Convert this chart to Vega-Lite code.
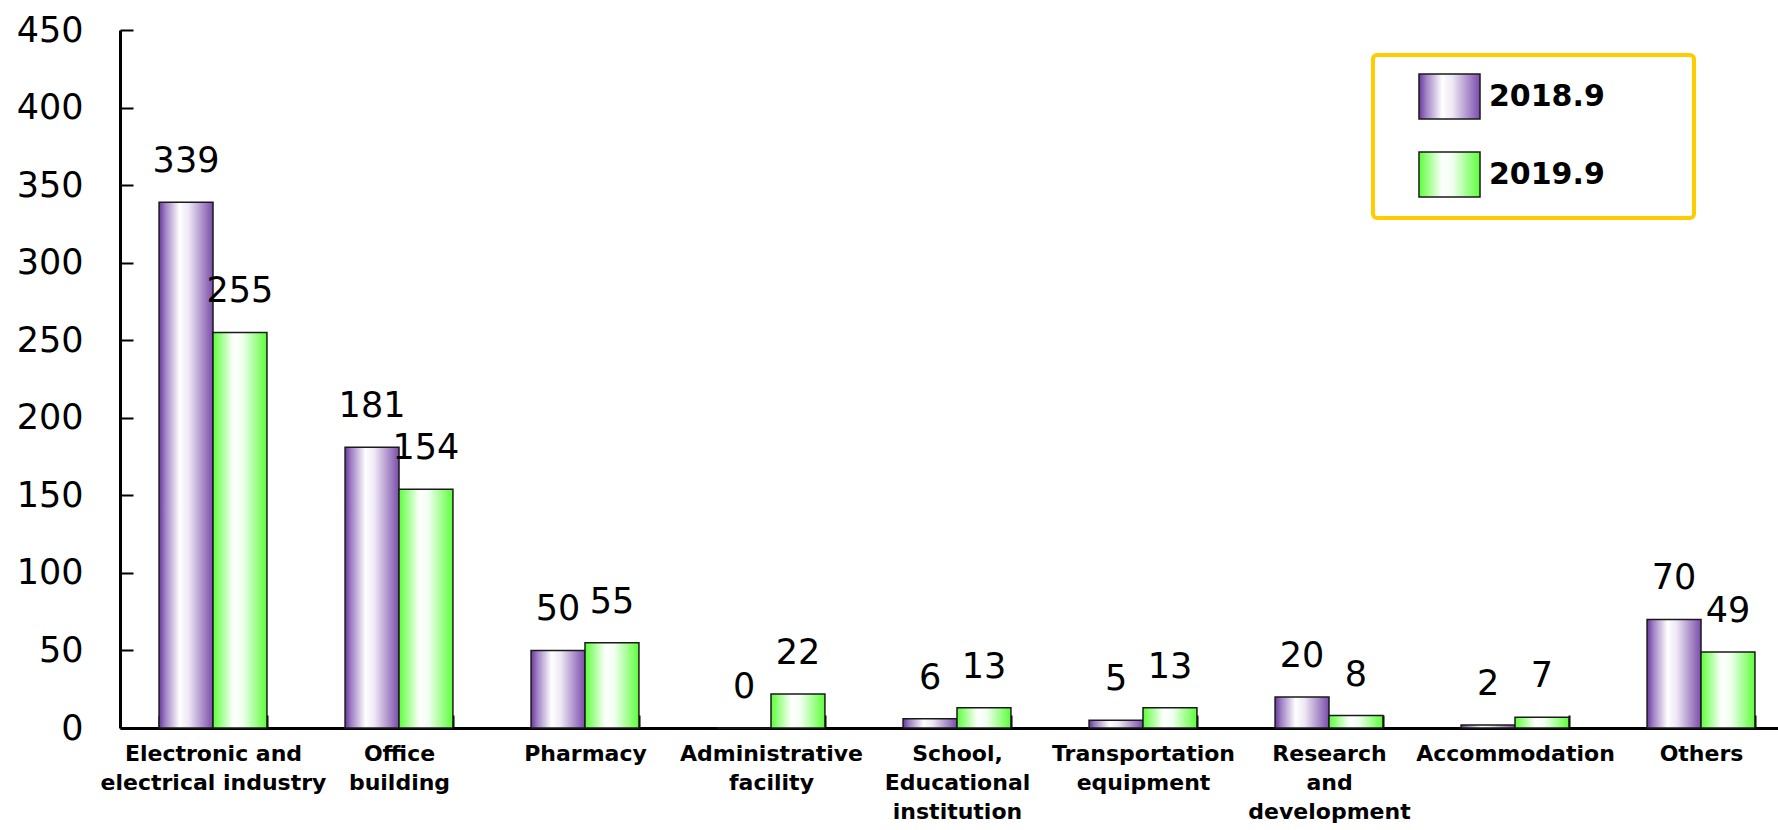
{
  "$schema": "https://vega.github.io/schema/vega-lite/v6.json",
  "autosize": {"type": "none"},
  "width": 1658,
  "height": 698,
  "padding": {"left": 120, "top": 30, "right": 0, "bottom": 102},
  "background": "white",
  "config": {"view": {"stroke": null}, "font": "DejaVu Sans", "legend": {"strokeWidth": 4}},
  "data": {
    "values": [
      {"category": "Electronic and|electrical industry", "year": "2018.9", "value": 339},
      {"category": "Electronic and|electrical industry", "year": "2019.9", "value": 255},
      {"category": "Office|building", "year": "2018.9", "value": 181},
      {"category": "Office|building", "year": "2019.9", "value": 154},
      {"category": "Pharmacy", "year": "2018.9", "value": 50},
      {"category": "Pharmacy", "year": "2019.9", "value": 55},
      {"category": "Administrative|facility", "year": "2018.9", "value": 0},
      {"category": "Administrative|facility", "year": "2019.9", "value": 22},
      {"category": "School,|Educational|institution", "year": "2018.9", "value": 6},
      {"category": "School,|Educational|institution", "year": "2019.9", "value": 13},
      {"category": "Transportation|equipment", "year": "2018.9", "value": 5},
      {"category": "Transportation|equipment", "year": "2019.9", "value": 13},
      {"category": "Research|and|development", "year": "2018.9", "value": 20},
      {"category": "Research|and|development", "year": "2019.9", "value": 8},
      {"category": "Accommodation", "year": "2018.9", "value": 2},
      {"category": "Accommodation", "year": "2019.9", "value": 7},
      {"category": "Others", "year": "2018.9", "value": 70},
      {"category": "Others", "year": "2019.9", "value": 49}
    ]
  },
  "encoding": {
    "x": {
      "field": "category",
      "type": "nominal",
      "sort": null,
      "scale": {"paddingInner": 0.42, "paddingOuter": 0.21, "range": [0, 1674]},
      "axis": {
        "title": null,
        "labelExpr": "datum.value ? split(datum.value, '|') : ''",
        "labelAngle": 0,
        "labelFontSize": 22,
        "labelFontWeight": "bold",
        "labelColor": "black",
        "labelLineHeight": 29,
        "labelBaseline": "top",
        "labelPadding": 28,
        "labelLimit": 400,
        "tickBand": "extent",
        "tickSize": -13,
        "tickWidth": 2,
        "tickColor": "black",
        "domainColor": "black",
        "domainWidth": 3
      }
    },
    "xOffset": {"field": "year", "type": "nominal", "sort": ["2018.9", "2019.9"]},
    "y": {
      "field": "value",
      "type": "quantitative",
      "scale": {"domain": [0, 450], "nice": false},
      "axis": {
        "title": null,
        "values": [0, 50, 100, 150, 200, 250, 300, 350, 400, 450],
        "grid": false,
        "tickSize": -13,
        "tickWidth": 2,
        "tickColor": "black",
        "domainColor": "black",
        "domainWidth": 3,
        "labelFontSize": 35,
        "labelColor": "black",
        "labelPadding": 50
      }
    }
  },
  "layer": [
    {
      "mark": {"type": "bar", "stroke": "#1a1a1a", "strokeWidth": 1.5},
      "encoding": {
        "fill": {
          "field": "year",
          "type": "nominal",
          "sort": ["2018.9", "2019.9"],
          "scale": {
            "range": [
              {"expr": "{gradient: 'linear', x1: 0, y1: 0, x2: 1, y2: 0, stops: [{offset: 0, color: '#68389c'}, {offset: 0.12, color: '#a183c6'}, {offset: 0.38, color: '#ffffff'}, {offset: 0.55, color: '#eee7f4'}, {offset: 1, color: '#7a4cab'}]}"},
              {"expr": "{gradient: 'linear', x1: 0, y1: 0, x2: 1, y2: 0, stops: [{offset: 0, color: '#5cff3a'}, {offset: 0.38, color: '#ffffff'}, {offset: 0.55, color: '#f0fff0'}, {offset: 1, color: '#5cff3a'}]}"}
            ]
          },
          "legend": {
            "title": null,
            "orient": "none",
            "legendX": 1253,
            "legendY": 25,
            "padding": 18,
            "symbolOffset": 35,
            "strokeColor": "#FFCC00",
            "cornerRadius": 4,
            "fillColor": "white",
            "symbolType": "M-1.356,-1H1.356V1H-1.356Z",
            "symbolSize": 2025,
            "symbolStrokeColor": "#1a1a1a",
            "symbolStrokeWidth": 1.5,
            "symbolOpacity": 1,
            "rowPadding": 27,
            "labelOffset": 16,
            "labelFontSize": 30,
            "labelFontWeight": "bold",
            "labelColor": "black",
            "labelLimit": 400,
            "labelExpr": "datum.label + '\u2800\u2800\u2800'"
          }
        }
      }
    },
    {
      "mark": {"type": "text", "baseline": "alphabetic", "dy": -30, "fontSize": 35, "color": "black"},
      "encoding": {"text": {"field": "value", "type": "quantitative"}}
    }
  ]
}
